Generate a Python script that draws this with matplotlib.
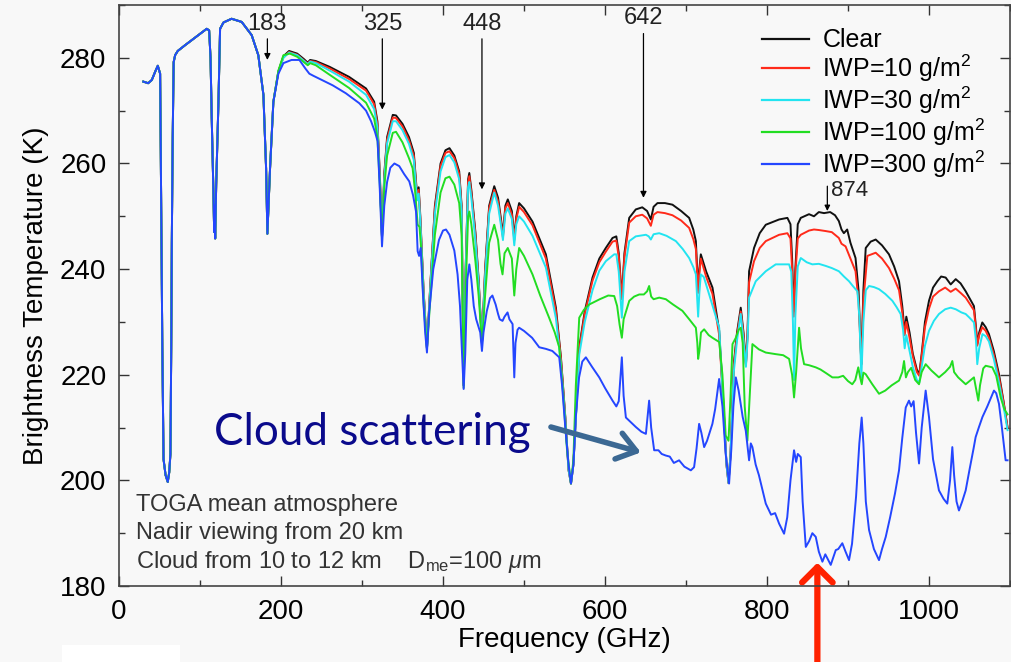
import numpy as np
import matplotlib
matplotlib.use("Agg")
import matplotlib.pyplot as plt
from matplotlib.ticker import MultipleLocator
from matplotlib.patches import Rectangle

plt.rcParams['font.family'] = ['Liberation Sans', 'DejaVu Sans']
plt.rcParams['mathtext.fontset'] = 'custom'
plt.rcParams['mathtext.rm'] = 'Liberation Sans'
plt.rcParams['mathtext.it'] = 'Liberation Sans:italic'

# below ~197 GHz every case gives the same spectrum
low_band = [(30, 275.5), (36, 275.2), (40.5, 275.8), (45, 277.5), (47.9, 278.5), (50.8, 277),
            (52, 255), (53.5, 225), (55, 204), (57.5, 201), (60.2, 199.7), (62, 201.5),
            (63.5, 205), (64.5, 225), (65.2, 245), (66.3, 265), (67.5, 279.2), (69.3, 280.5),
            (72.5, 281.3), (81.6, 282.4), (98, 284.3), (108.3, 285.5), (111.3, 285.2),
            (113, 280), (114.5, 268.5), (116.5, 255), (117.5, 247), (118.1, 252),
            (118.75, 245.8), (120, 256), (122.8, 271.7), (124.8, 285.5), (129, 286.7),
            (139, 287.4), (151.5, 286.8), (163.8, 284.3), (172, 280.5), (178.3, 273),
            (181.6, 259.1), (183.2, 246.7), (186.5, 259.1), (190.6, 271.7)]

clear = [(196.8, 277.4), (203, 280.3), (210, 281.3), (220, 280.8), (228, 279.8), (233, 279.1),
         (236, 279.6), (243, 279.4), (260, 278.3), (284, 276.4), (305, 274.2), (315, 271.7),
         (319, 268), (322, 258), (324.7, 246), (327.5, 258), (331, 265), (338, 269.2),
         (342, 269.1), (350, 267.5), (358, 265), (364, 262), (366.5, 257), (368, 254),
         (370, 255.5), (372, 250), (376, 236), (380.2, 225), (384, 236), (390, 252),
         (397, 260), (403, 262.5), (408, 262.9), (414, 261.5), (420, 258.5), (423, 252),
         (425.5, 218), (428, 240), (431, 257), (432.5, 258.2), (435, 255), (440, 247),
         (444, 238), (448.1, 226), (452, 240), (457, 252), (463.3, 255.7), (468, 253.5),
         (472, 249), (474, 246.5), (477, 252), (480, 253.2), (485, 251), (488, 246),
         (490.5, 250), (494, 252.5), (500, 251.5), (510.5, 249), (527, 242.8), (539.4, 232.7),
         (545.6, 223.3), (551, 212), (555, 202), (558, 199.4), (561, 203), (565, 215),
         (568.2, 225.2), (575, 232), (584.6, 238.4), (593, 242), (601, 244), (609.3, 245.9),
         (614, 246.2), (617, 243), (620.8, 234.6), (624, 243), (629.9, 249.7), (638, 251.3),
         (646, 251.7), (652, 251), (656.6, 249.4), (660, 251.8), (664.8, 252.5), (674, 252.5),
         (683.3, 252.2), (694, 251), (703.9, 249.7), (709, 247.5), (712.2, 245.3), (715, 236),
         (716.5, 240), (718.3, 242.8), (725, 239.5), (732.7, 236.5), (741, 228.3), (746, 215),
         (750, 203), (752.5, 199.5), (755, 205), (759, 222), (763, 228), (767.6, 232.7),
         (771, 228), (774, 222), (776, 228), (777.9, 239.6), (784, 244), (791, 246.8),
         (798.5, 248.4), (815, 249.4), (825.2, 249.7), (829, 248.5), (831, 242), (833, 232),
         (835, 240), (838, 248.5), (841.7, 249.7), (851.9, 250.4), (858, 250), (864, 250.8),
         (870.4, 250.6), (878, 250.8), (884, 250.2), (888.7, 249.1), (892, 247.5),
         (894.9, 246.8), (899, 247.5), (903, 245), (909.3, 242.1), (913, 236), (916.5, 222),
         (919, 236), (921.9, 244), (928, 245.2), (934.2, 245.6), (942, 244.5), (950.6, 242.8),
         (957, 240.5), (963, 237.7), (967, 233), (970, 228), (972, 231), (976, 228),
         (980, 224), (985, 221), (988, 220), (991, 224), (995, 230), (1000, 234),
         (1005, 236.5), (1010.3, 237.7), (1015, 238.6), (1020.6, 238.4), (1026.8, 237.1),
         (1033, 238.1), (1039, 237.3), (1045.3, 235.8), (1050, 234.5), (1055.5, 233),
         (1058, 229), (1059.6, 225.8), (1062, 228), (1065.8, 229.9), (1070, 229), (1074, 227.7),
         (1080, 224.5), (1086.4, 220.1), (1092, 215), (1097, 210)]

iwp10 = [(196.8, 277.4), (203, 280.1), (210, 281.1), (220, 280.6), (233, 278.9), (236, 279.4),
         (243, 279.2), (260, 278), (284, 276), (305, 273.8), (315, 271.2), (319, 267.5),
         (322, 257.5), (324.7, 246), (327.5, 257.5), (331, 264.5), (338, 268.7), (342, 268.6),
         (350, 267), (358, 264.4), (364, 261.4), (366.5, 256.5), (368, 253.6), (370, 255),
         (372, 249.5), (376, 236), (380.2, 225), (384, 236), (390, 251.5), (397, 259.5),
         (403, 262), (408, 262.3), (414, 261), (420, 258), (423, 251.5), (425.5, 218),
         (428, 240), (431, 256.5), (432.5, 257.6), (435, 254.5), (440, 246.5), (444, 237.5),
         (448.1, 226), (452, 239.5), (457, 251.5), (463.3, 255), (468, 252.8), (472, 248.5),
         (474, 246), (477, 251.5), (480, 252.5), (485, 250.3), (488, 245.5), (490.5, 249.5),
         (494, 251.8), (500, 250.8), (510.5, 248.3), (527, 242), (539.4, 232), (545.6, 223),
         (551, 211.8), (555, 202), (558, 199.4), (561, 203), (565, 215), (568.2, 224.8),
         (575, 231.5), (584.6, 237.8), (593, 241.3), (601, 243.3), (609.3, 245.2),
         (614, 245.4), (617, 242.3), (620.8, 234.3), (624, 242.3), (629.9, 248.8), (638, 250),
         (646, 250.3), (652, 249.6), (656.6, 248.2), (660, 250.3), (664.8, 250.8),
         (674, 250.6), (683.3, 250.2), (694, 249.2), (703.9, 247.8), (709, 245.7),
         (712.2, 243.8), (715, 235.5), (716.5, 239.2), (718.3, 242), (725, 238.5),
         (732.7, 235.3), (741, 227.5), (746, 214.5), (750, 203), (752.5, 199.5), (755, 205),
         (759, 221.5), (763, 227.5), (767.6, 232), (771, 227.5), (774, 221.8), (776, 227.5),
         (777.9, 237.5), (784, 241.5), (791, 244), (798.5, 245.3), (815, 246.5),
         (825.2, 246.8), (829, 245.8), (831, 240), (833, 231), (835, 239), (838, 245.8),
         (841.7, 246.5), (851.9, 247.3), (858, 247.5), (864, 247.4), (872.6, 247.2),
         (880, 247), (888.7, 245.9), (892, 244.8), (897, 244.3), (903, 242), (909.3, 239.6),
         (913, 234), (916.5, 222), (919, 234), (923.9, 242.5), (934.2, 243.1), (942, 242),
         (950.6, 240.2), (957, 238.2), (963, 236), (967, 231.8), (970, 227.5), (972, 230),
         (976, 227), (980, 223.5), (985, 220.5), (988, 219.8), (991, 223.5), (995, 229),
         (1000, 232.5), (1005, 234.8), (1012.3, 235.8), (1020, 236.5), (1026.8, 235.7),
         (1033, 236.3), (1039, 235.5), (1045.3, 234.6), (1050, 233.5), (1055.5, 232.2),
         (1058, 228.5), (1059.6, 225.5), (1062, 227.5), (1065.8, 229), (1070, 228.3),
         (1074, 227), (1080, 223.8), (1086.4, 219.5), (1092, 214.8), (1097, 210)]

iwp30 = [(196.8, 277.4), (203, 280), (210, 281), (220, 280.5), (233, 278.8), (236, 279.3),
         (243, 279), (260, 277.6), (284, 275.5), (305, 273), (315, 270.3), (319, 266.8),
         (322, 257), (324.7, 246), (327.5, 257), (331, 263.8), (338, 268), (342, 268),
         (350, 266.3), (358, 263.7), (364, 260.6), (366.5, 256), (368, 253), (370, 254.3),
         (372, 249), (376, 235.5), (380.2, 225), (384, 235.5), (390, 250.5), (397, 258.5),
         (403, 261.2), (408, 261.6), (414, 260.2), (420, 257), (423, 251), (425.5, 218),
         (428, 239.5), (431, 255.5), (432.5, 256.5), (435, 253.5), (440, 245.5), (444, 237),
         (448.1, 226), (452, 238.5), (457, 250.5), (463.3, 254.5), (468, 252), (472, 247.8),
         (474, 245.5), (477, 250.5), (480, 251.5), (485, 249.5), (488, 244.5), (490.5, 248.5),
         (494, 250), (500, 249), (510.5, 246.3), (527, 240.3), (539.4, 230.7), (545.6, 222),
         (551, 211.5), (555, 202), (558, 199.4), (561, 203), (565, 214.5), (568.2, 223.8),
         (575, 230), (584.6, 236), (593, 239.7), (601, 241.5), (611.4, 242.8), (614, 242.8),
         (617, 239.5), (620.8, 230.8), (624, 239.5), (629.9, 245.3), (638, 246.2),
         (650.5, 246.5), (654, 246.2), (656.6, 245.6), (660, 246.6), (666.9, 246.8),
         (676, 246.3), (687.5, 245.3), (696, 243.8), (703.9, 242.1), (709, 240.4),
         (712.2, 239), (715, 231), (716.5, 235.5), (718.3, 239), (722, 238.5), (728.6, 235.2),
         (741, 228.9), (746, 214.5), (750, 203), (752.5, 199.5), (755, 205), (759, 220.5),
         (763, 226.5), (767.6, 231.5), (771, 226.5), (774, 221.5), (776, 226.5),
         (777.9, 234.6), (786.1, 237.7), (798.5, 239.6), (810.8, 240.9), (827.3, 240.9),
         (830, 239.5), (832, 230), (833.5, 219), (835, 231), (838, 240.5), (841.7, 242.1),
         (849, 241.3), (856, 240.9), (864, 241), (872.6, 240.6), (880, 240.2), (888.7, 239.6),
         (895, 238.6), (901.3, 237.7), (906, 236.8), (911.6, 235.8), (914, 231),
         (916.5, 219.5), (919, 230), (922, 236), (926, 236.8), (932, 236.6), (938.3, 236.2),
         (946, 235.3), (954.8, 234), (960, 232.8), (965, 231.5), (968, 228.5), (970, 225),
         (972, 227.5), (976, 224.5), (980, 221.5), (985, 219), (988, 218.5), (991, 221.5),
         (995, 225.5), (1000, 228.3), (1006, 230.2), (1012.3, 231.5), (1020, 232.4),
         (1026.8, 232.7), (1033, 232.4), (1040, 231.8), (1045.3, 231.5), (1050, 230.8),
         (1055.5, 229.9), (1058, 226.5), (1059.6, 222), (1062, 225), (1066, 227.7),
         (1070, 227.3), (1074, 226.3), (1080, 223), (1086.4, 218.5), (1092, 214),
         (1097, 209.5)]

iwp100 = [(196.8, 277.6), (203, 280.5), (211, 280.8), (220, 280.2), (233, 278.6), (236, 279),
          (243, 278.6), (260, 276.8), (284, 274.3), (305, 271.5), (315, 268.5), (319, 265),
          (322, 256), (324.7, 246), (327.5, 255.5), (331, 261.5), (338, 265.8), (342, 266),
          (350, 264), (358, 261), (362.5, 259.1), (366, 254), (368.7, 248.4), (371, 248),
          (373, 244), (376, 233.5), (380.2, 225), (384, 233.5), (390, 246.5), (397, 254.5),
          (403, 257.2), (408, 257.5), (414, 256), (420, 252.5), (423, 246.5), (425.5, 217.5),
          (428, 236), (431, 250), (432.5, 250.9), (435, 248.5), (440, 241.5), (444, 235),
          (448.1, 226), (452, 235), (457, 245), (463.3, 248.4), (468, 245.5), (471, 241),
          (473.5, 239), (476, 243), (480, 244), (485, 242), (488, 235), (490.5, 240),
          (494, 244), (500, 242.5), (510.5, 239), (520, 235), (531, 230.8), (538, 228),
          (543.5, 225.2), (548, 217), (553, 206), (558, 199.4), (561, 204), (564, 218),
          (568.2, 230.8), (574, 232.3), (580.5, 233.3), (593.6, 234.3), (604, 235),
          (611.4, 234.9), (615, 233), (618, 229.5), (620.8, 227), (623, 230.5), (630, 234),
          (636, 234.8), (642.3, 235.2), (648, 235.2), (652, 235.8), (654.5, 236.8),
          (657, 234.8), (660, 234.3), (667, 234.6), (675.1, 234.3), (684, 233.3),
          (695.6, 232.1), (704, 230.5), (712.2, 228.9), (714, 226), (715, 223), (716.5, 224.5),
          (718.5, 228), (722.4, 228.6), (728, 227.5), (732.6, 227), (738, 226.5),
          (741, 226.2), (745, 220), (749, 208.5), (752.5, 207.5), (755, 216), (757.4, 225.8),
          (761.5, 227), (765, 228.5), (767.6, 228.9), (770, 226), (772.5, 214),
          (775.8, 207.5), (778, 214), (782, 225.8), (790, 224.8), (798.5, 224.2),
          (810.8, 223.9), (820, 223.7), (827.3, 223), (831, 220), (833.4, 215.7),
          (836, 220.5), (839.6, 228.9), (842, 225), (845.8, 222), (852, 221.8), (860.2, 221.4),
          (866, 221), (873, 220.3), (880.7, 219.5), (888, 219.5), (894, 219.8), (900, 218.8),
          (905.3, 218.2), (909, 219), (912.7, 221.4), (915, 219.5), (917, 218.2),
          (919, 220.4), (921.9, 220.1), (930, 218.2), (938.3, 216.4), (946, 217), (954, 218),
          (963, 218.9), (967, 220.5), (969.2, 222.6), (971.5, 219.5), (974, 220.5),
          (978, 221.3), (983, 219), (987.7, 218.2), (991, 220.5), (995.9, 222),
          (1003, 220.8), (1012.3, 219.5), (1020, 220.5), (1026, 221.5), (1028.8, 222.6),
          (1031, 220.5), (1036, 219.5), (1045.3, 218.2), (1050, 218.8), (1055.5, 219.5),
          (1058.5, 217), (1060.9, 215.1), (1063, 218), (1067, 221.2), (1070, 221.7),
          (1078.2, 221.4), (1083, 219.8), (1088.5, 215.7), (1093, 213.5), (1097, 212.5)]

iwp300 = [(196.8, 277), (203, 279), (213, 279.6), (222.7, 279.6), (230, 278), (235, 277),
          (240, 276.6), (263.8, 274.8), (280, 273.3), (296.7, 271.4), (305, 270),
          (311.2, 268), (316, 266), (319.3, 264.2), (322, 255), (324.7, 244.3),
          (327.5, 252), (331, 256.5), (335, 259.2), (340, 260), (346, 259.5), (352, 258),
          (358.4, 256.6), (363, 254), (366.7, 250.9), (368.7, 243.4), (370.5, 242.5),
          (372.5, 244), (375, 236), (378, 228), (380.2, 224.2), (383, 232), (388, 240),
          (395, 245.5), (400, 247.3), (403.7, 247.5), (408, 246.5), (414, 243.5), (418, 239),
          (421, 233), (423.5, 224), (425.5, 217.3), (427.5, 224), (430, 238), (432.5, 240.9),
          (435, 238), (438, 233), (441, 230.5), (444, 229), (446, 228), (448.1, 224.5),
          (450, 228), (454, 232), (458, 234.5), (461, 235), (465, 233.3), (468, 231.5),
          (470, 230.5), (473.5, 230.2), (476, 231), (479.7, 231.8), (482, 230.5),
          (485.9, 229.6), (487, 224), (488, 219.5), (489.5, 226), (492, 228.5), (494, 228.9),
          (500, 228.3), (510, 227), (518.8, 225.2), (527, 224.9), (535, 224.5),
          (543.5, 223.3), (547, 218), (551, 210), (555, 203), (558, 199.4), (561, 203),
          (564, 212), (568, 219.5), (572, 222.5), (576.4, 223.3), (584, 221.5),
          (592.9, 219.5), (600, 217.5), (609.3, 215.1), (614, 214), (617, 215),
          (620.8, 223.3), (623, 216), (625.8, 211.9), (632, 211), (638.1, 210.1),
          (645, 209.2), (650.5, 208.8), (652.5, 212), (654.5, 215.1), (657, 210),
          (660.7, 205.7), (666, 205.7), (670, 205), (675.1, 204.7), (680, 204.5),
          (685, 203.3), (691.5, 203.8), (698, 202.6), (706, 201.9), (710, 202.5), (713, 206),
          (716.2, 210.7), (719, 209), (722.4, 206.3), (726, 207.5), (732.6, 210.7),
          (736, 213.5), (740.9, 219.2), (745, 214), (749, 205), (753.2, 199.4), (756, 206),
          (758.5, 214), (761.5, 219.5), (765, 217), (770, 212), (773.8, 209.4),
          (777.9, 203.8), (780, 207), (782, 206.3), (786, 203), (790, 201), (798.5, 195.6),
          (805, 193.5), (810, 193.8), (815, 191.8), (821.1, 189.9), (825, 193), (829, 200),
          (833.4, 205.7), (836, 203.5), (838, 205), (841.7, 204.4), (844, 196),
          (847.9, 187.4), (852, 188.5), (856, 190), (860.2, 189.3), (864, 186.5),
          (868.4, 184.6), (872, 186), (878.7, 184), (884.9, 186.8), (888, 187),
          (893, 188.1), (897, 186.5), (901.3, 184.9), (905, 188), (910, 197), (914, 207),
          (916.9, 211.9), (919, 207), (922, 196), (926, 190.6), (932, 187), (938.3, 184.9),
          (942, 187), (946.6, 189.3), (952, 193), (958, 197.5), (963, 201.9), (967, 208),
          (971.3, 213.8), (975.3, 215.1), (978, 214), (981, 215), (984, 209),
          (987.7, 203.2), (991, 210), (995.9, 217), (1000, 212), (1005, 204),
          (1012.3, 198.1), (1018, 196.5), (1022.6, 195.6), (1026, 200), (1028.8, 206.3),
          (1031, 201), (1034, 196), (1037, 194.3), (1041, 196), (1045.3, 198.1), (1050, 202),
          (1055, 206), (1057.6, 208.2), (1061.7, 210.1), (1066, 212), (1072, 214),
          (1080.2, 217), (1083, 216.5), (1086.4, 214.5), (1090, 210), (1094.6, 203.8),
          (1097, 203.8)]

labels = ['Clear', 'IWP=10 g/m$^2$', 'IWP=30 g/m$^2$', 'IWP=100 g/m$^2$', 'IWP=300 g/m$^2$']
colors = ['#111111', '#ff2a1a', '#22e4f0', '#22dd22', '#2446ff']
series = [clear, iwp10, iwp30, iwp100, iwp300]

# line positions marked with arrows: (label, freq, arrow top, arrow tip)
marked_lines = [('183', 183.2, 283.6, 279.6), ('325', 325.1, 283.6, 270.2),
                ('448', 448.1, 283.6, 255.1), ('642', 647.5, 284.6, 253.5)]

bg = '#f8f8f8'
fig = plt.figure(figsize=(10.11, 6.62), dpi=100, facecolor=bg)
ax = fig.add_axes([0.1177, 0.1148, 0.8813, 0.8776], facecolor=bg)

for pts, lab, col in zip(series, labels, colors):
    arr = np.array(low_band + pts)
    ax.plot(arr[:, 0], arr[:, 1], color=col, lw=1.4, label=lab, zorder=3)

ax.set_xlim(0, 1100)
ax.set_ylim(180, 290)
ax.xaxis.set_major_locator(MultipleLocator(200))
ax.xaxis.set_minor_locator(MultipleLocator(100))
ax.yaxis.set_major_locator(MultipleLocator(20))
ax.yaxis.set_minor_locator(MultipleLocator(10))
ax.tick_params(which='both', direction='in', top=True, right=True, color='#333333')
ax.tick_params(which='major', length=7, width=1, labelsize=20, pad=9)
ax.tick_params(which='minor', length=4, width=1)
for sp in ax.spines.values():
    sp.set_color('#444444')
    sp.set_linewidth(1.2)

ax.set_xlabel('Frequency (GHz)', fontsize=20, labelpad=2)
ax.set_ylabel('Brightness Temperature (K)', fontsize=20, labelpad=8)

for txt, f, top, tip in marked_lines:
    ax.annotate('', xy=(f, tip), xytext=(f, top),
                arrowprops=dict(arrowstyle='-|>', lw=0.9, color='k',
                                mutation_scale=9, shrinkA=0, shrinkB=0))
    ax.text(f, top + 0.8, txt, ha='center', va='bottom', fontsize=17, color='#222222')

ax.annotate('', xy=(874.5, 251), xytext=(874.5, 255.7),
            arrowprops=dict(arrowstyle='-|>', lw=0.9, color='k',
                            mutation_scale=8, shrinkA=0, shrinkB=0))
ax.text(879, 254.9, '874', ha='left', va='center', fontsize=16, color='#222222')

leg = ax.legend(loc='upper left', bbox_to_anchor=(0.722, 0.960), frameon=False,
                fontsize=18, handlelength=1.85, handletextpad=0.55, labelspacing=0.02,
                borderpad=0, borderaxespad=0)
for line in leg.get_lines():
    line.set_linewidth(1.6)

notes = ['TOGA mean atmosphere', 'Nadir viewing from 20 km',
         'Cloud from 10 to 12 km    D$_{\\mathrm{me}}$=100 $\\mu$m']
for i, note in enumerate(notes):
    ax.text(20.4, 195.3 - 5.35 * i, note, ha='left', va='center', fontsize=17,
            color='#333333')

ax.text(117.8, 209.1, 'Cloud scattering', ha='left', va='center', fontsize=31.7,
        family=['Lato', 'DejaVu Sans'], color='#0a0a8c')
ax.annotate('', xy=(644.3, 205.3), xytext=(533.3, 210.1),
            arrowprops=dict(arrowstyle='->,head_length=0.55,head_width=0.4',
                            lw=4, color='#3b6893', shrinkA=0, shrinkB=0,
                            mutation_scale=24),
            annotation_clip=False)
# red pointer under the deepest part of the IWP=300 curve, drawn beneath the lines
ax.annotate('', xy=(862.2, 184.4), xytext=(862.2, 165),
            arrowprops=dict(arrowstyle='->,head_length=0.5,head_width=0.5',
                            lw=4.5, color='#ff2200', shrinkA=0, shrinkB=0,
                            mutation_scale=22),
            annotation_clip=False, zorder=1)

fig.patches.append(Rectangle((62 / 1011, 0), 118 / 1011, 17 / 662, transform=fig.transFigure,
                             facecolor='white', edgecolor='none', zorder=0))

fig.savefig('out.png', dpi=100, facecolor=bg)
